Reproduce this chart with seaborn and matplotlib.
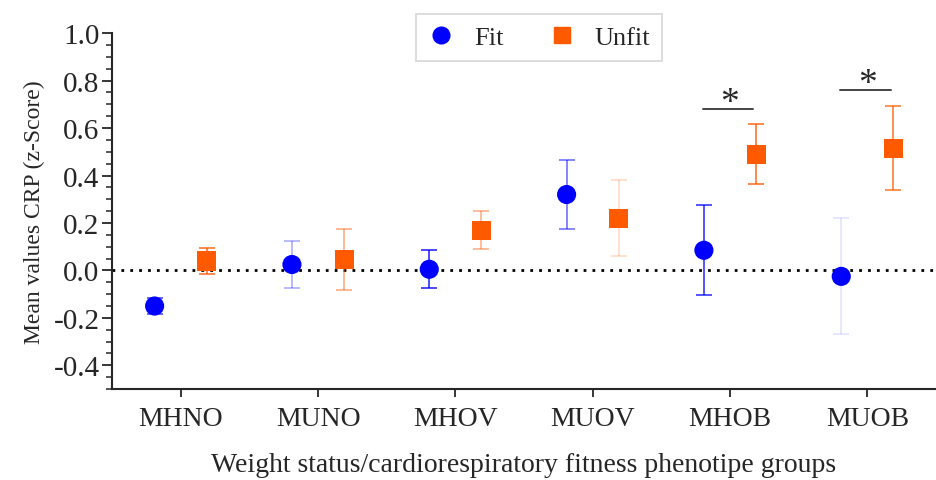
import numpy as np
import pandas as pd
import seaborn as sns
import matplotlib.pyplot as plt
from matplotlib.ticker import MultipleLocator

# groups on the x axis
groups = ["MHNO", "MUNO", "MHOV", "MUOV", "MHOB", "MUOB"]

# mean CRP z-score and error half-widths
fit_mean = [-0.15, 0.025, 0.005, 0.32, 0.085, -0.025]
fit_err = [0.035, 0.098, 0.08, 0.147, 0.19, 0.244]
unfit_mean = [0.04, 0.045, 0.17, 0.22, 0.49, 0.515]
unfit_err = [0.055, 0.128, 0.08, 0.16, 0.126, 0.177]

# groups with a significant fit/unfit difference
sig_groups = ["MHOB", "MUOB"]
sig_heights = [0.68, 0.76]

# error bar opacity as seen in the original
fit_err_alpha = [0.75, 0.35, 0.9, 0.6, 0.85, 0.12]
unfit_err_alpha = [0.9, 0.55, 0.5, 0.25, 0.9, 0.85]

colors = {"Fit": "#0000FF", "Unfit": "#FF5A00"}
offset = 0.19

rows = []
for i, g in enumerate(groups):
    rows.append({"group": g, "status": "Fit", "x": i - offset, "mean": fit_mean[i], "err": fit_err[i], "alpha": fit_err_alpha[i]})
    rows.append({"group": g, "status": "Unfit", "x": i + offset, "mean": unfit_mean[i], "err": unfit_err[i], "alpha": unfit_err_alpha[i]})
df = pd.DataFrame(rows)

sns.set_style("ticks")
plt.rcParams["font.family"] = ["Liberation Serif", "DejaVu Serif"]

fig = plt.figure(figsize=(9.36, 4.81), dpi=100)
ax = fig.add_axes([0.1197, 0.189, 0.8803, 0.74])

# error bars first, so markers sit on top
for _, r in df.iterrows():
    ax.errorbar(r["x"], r["mean"], yerr=r["err"], fmt="none", ecolor=colors[r["status"]],
                alpha=r["alpha"], elinewidth=1.1, capsize=5.5, capthick=1.1, zorder=2)

sns.scatterplot(data=df, x="x", y="mean", hue="status", style="status",
                markers={"Fit": "o", "Unfit": "s"}, palette=colors,
                s=190, edgecolor="none", ax=ax, zorder=3, legend=False)

ax.axhline(0, color="black", linestyle=(0, (1, 2.2)), linewidth=2, zorder=1)

# significance marks
for g, h in zip(sig_groups, sig_heights):
    i = groups.index(g)
    ax.plot([i - 0.2, i + 0.17], [h, h], color="#444444", linewidth=1.4)
    ax.text(i, h + 0.028, "*", ha="center", va="center", fontsize=27)

ax.set_xlim(-0.5, 5.5)
ax.set_ylim(-0.5, 1.0)
ax.set_xticks(range(len(groups)))
ax.set_xticklabels(groups, fontsize=20)
ax.yaxis.set_major_locator(MultipleLocator(0.2))
ax.yaxis.set_minor_locator(MultipleLocator(0.05))
ax.set_yticks(np.arange(-0.4, 1.01, 0.2))
ax.set_yticklabels([f"{v:.1f}" for v in np.arange(-0.4, 1.01, 0.2)], fontsize=21)
ax.tick_params(axis="y", which="major", length=7, width=1.3, pad=2)
ax.tick_params(axis="y", which="minor", length=4, width=1.1)
ax.tick_params(axis="x", which="major", length=6, width=1.3, pad=6)

ax.set_xlabel("Weight status/cardiorespiratory fitness phenotipe groups", fontsize=20, labelpad=15)
ax.set_ylabel("Mean values CRP (z-Score)", fontsize=17, labelpad=6)

for side in ["top", "right"]:
    ax.spines[side].set_visible(False)
for side in ["left", "bottom"]:
    ax.spines[side].set_linewidth(1.5)

handles = [
    plt.Line2D([], [], marker="o", linestyle="none", color=colors["Fit"], markersize=12),
    plt.Line2D([], [], marker="s", linestyle="none", color=colors["Unfit"], markersize=11),
]
leg = fig.legend(handles, ["Fit", "Unfit"], loc="upper center", bbox_to_anchor=(0.576, 0.969),
                 ncol=2, fontsize=19, frameon=True, fancybox=False, handlelength=1.0,
                 handletextpad=0.75, columnspacing=1.7, borderpad=0.45, borderaxespad=0)
leg.get_frame().set_edgecolor("#cccccc")
leg.get_frame().set_linewidth(1.2)

fig.savefig("out.png", dpi=100)
